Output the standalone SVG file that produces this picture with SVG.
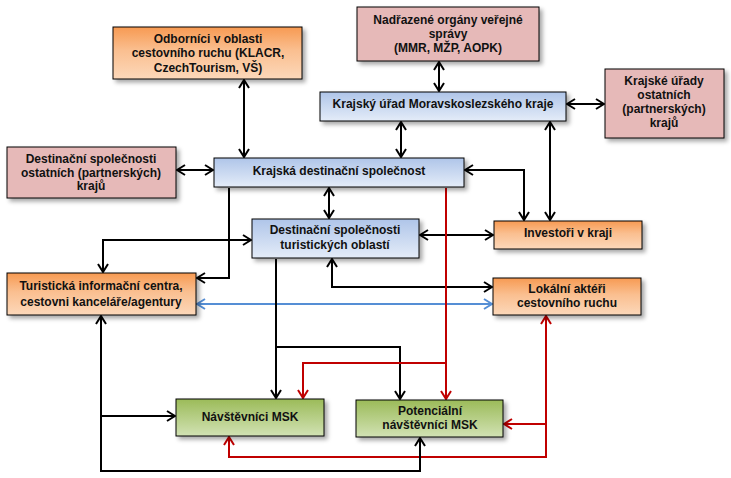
<svg xmlns="http://www.w3.org/2000/svg" width="731" height="478" viewBox="0 0 731 478">
<defs>
<linearGradient id="gOr" x1="0" y1="0" x2="0" y2="1"><stop offset="0" stop-color="#F79A52"/><stop offset="0.45" stop-color="#FABF90"/><stop offset="1" stop-color="#FCD8BA"/></linearGradient>
<linearGradient id="gBl" x1="0" y1="0" x2="0" y2="1"><stop offset="0" stop-color="#AFC5E9"/><stop offset="1" stop-color="#E4ECF8"/></linearGradient>
<linearGradient id="gGr" x1="0" y1="0" x2="0" y2="1"><stop offset="0" stop-color="#9BBB59"/><stop offset="1" stop-color="#D2E2B4"/></linearGradient>
<filter id="sh" x="-10%" y="-20%" width="130%" height="160%"><feDropShadow dx="3" dy="3" stdDeviation="2" flood-color="#000" flood-opacity="0.35"/></filter>
<marker id="ak" viewBox="0 0 10 12" refX="9" refY="6" markerWidth="10" markerHeight="12" markerUnits="userSpaceOnUse" orient="auto-start-reverse"><path d="M1,1 L9,6 L1,11" fill="none" stroke="#000" stroke-width="2"/></marker>
<marker id="ar" viewBox="0 0 10 12" refX="9" refY="6" markerWidth="10" markerHeight="12" markerUnits="userSpaceOnUse" orient="auto-start-reverse"><path d="M1,1 L9,6 L1,11" fill="none" stroke="#C00000" stroke-width="2"/></marker>
<marker id="ab" viewBox="0 0 10 12" refX="9" refY="6" markerWidth="10" markerHeight="12" markerUnits="userSpaceOnUse" orient="auto-start-reverse"><path d="M1,1 L9,6 L1,11" fill="none" stroke="#558ED5" stroke-width="2"/></marker>
</defs>
<style>
.box{stroke:#000;stroke-width:1;filter:url(#sh)}
.or{fill:url(#gOr)}
.bl{fill:url(#gBl)}
.gr{fill:url(#gGr)}
.pk{fill:#E6B9B8}
text{font-family:"Liberation Sans",Arial,sans-serif;font-weight:bold;font-size:12px;fill:#111;text-anchor:middle}
.k{fill:none;stroke:#000;stroke-width:2}
.r{fill:none;stroke:#C00000;stroke-width:2}
.b{fill:none;stroke:#558ED5;stroke-width:2}
.kk{marker-start:url(#ak);marker-end:url(#ak)}
.ke{marker-end:url(#ak)}
.rr{marker-start:url(#ar);marker-end:url(#ar)}
.re{marker-end:url(#ar)}
.bb{marker-start:url(#ab);marker-end:url(#ab)}
</style>
<g id="connectors">
<path class="k kk" d="M244,80 V157"/>
<path class="k kk" d="M439,62 V91"/>
<path class="k kk" d="M567,104 H604"/>
<path class="k kk" d="M401,122 V157"/>
<path class="k kk" d="M550,122 V220"/>
<path class="k kk" d="M465,170 H524 V220"/>
<path class="k kk" d="M177,170 H213"/>
<path class="k kk" d="M329,188 V218"/>
<path class="k kk" d="M420,235 H493"/>
<path class="k ke" d="M229,188 V278 H197"/>
<path class="k kk" d="M103,272 V240 H251"/>
<path class="k kk" d="M332,259 V287 H492"/>
<path class="b bb" d="M197,304 H492"/>
<path class="k ke" d="M276,259 V398"/>
<path class="k ke" d="M276,347 H400 V399"/>
<path class="r re" d="M446,188 V399"/>
<path class="r re" d="M446,363 H303 V398"/>
<path class="r rr" d="M229,437 V457 H546 V316"/>
<path class="r re" d="M546,424 H504"/>
<path class="k kk" d="M420,438 V471 H101 V316"/>
<path class="k ke" d="M101,416 H175"/>
</g>
<g id="odbornici"><rect class="box or" x="113" y="27" width="189" height="52"/><text x="208" y="43">Odborníci v oblasti</text><text x="208" y="57">cestovního ruchu (KLACR,</text><text x="208" y="72">CzechTourism, VŠ)</text></g>
<g id="nadrazene"><rect class="box pk" x="357" y="7" width="182" height="54"/><text x="448" y="24">Nadřazené orgány veřejné</text><text x="448" y="38">správy</text><text x="448" y="52">(MMR, MŽP, AOPK)</text></g>
<g id="kumsk"><rect class="box bl" x="320" y="92" width="246" height="29"/><text x="443" y="108">Krajský úřad Moravskoslezského kraje</text></g>
<g id="kuostatni"><rect class="box pk" x="605" y="69" width="119" height="69"/><text x="664" y="85">Krajské úřady</text><text x="664" y="99">ostatních</text><text x="664" y="113">(partnerských)</text><text x="664" y="127">krajů</text></g>
<g id="dsostatni"><rect class="box pk" x="7" y="147" width="169" height="51"/><text x="91" y="163">Destinační společnosti</text><text x="91" y="177">ostatních (partnerských)</text><text x="91" y="190">krajů</text></g>
<g id="kds"><rect class="box bl" x="214" y="158" width="250" height="29"/><text x="339" y="175">Krajská destinační společnost</text></g>
<g id="dsto"><rect class="box bl" x="252" y="219" width="167" height="39"/><text x="335" y="234">Destinační společnosti</text><text x="335" y="249">turistických oblastí</text></g>
<g id="investori"><rect class="box or" x="494" y="221" width="148" height="28"/><text x="568" y="237">Investoři v kraji</text></g>
<g id="lokalni"><rect class="box or" x="493" y="278" width="148" height="37"/><text x="567" y="293">Lokální aktéři</text><text x="567" y="307">cestovního ruchu</text></g>
<g id="tic"><rect class="box or" x="7" y="273" width="189" height="42"/><text x="101" y="290">Turistická informační centra,</text><text x="101" y="306">cestovni kanceláře/agentury</text></g>
<g id="navstevnici"><rect class="box gr" x="176" y="399" width="148" height="37"/><text x="250" y="421">Návštěvníci MSK</text></g>
<g id="potencialni"><rect class="box gr" x="356" y="400" width="147" height="37"/><text x="430" y="415">Potenciální</text><text x="430" y="429">návštěvníci MSK</text></g>
</svg>
